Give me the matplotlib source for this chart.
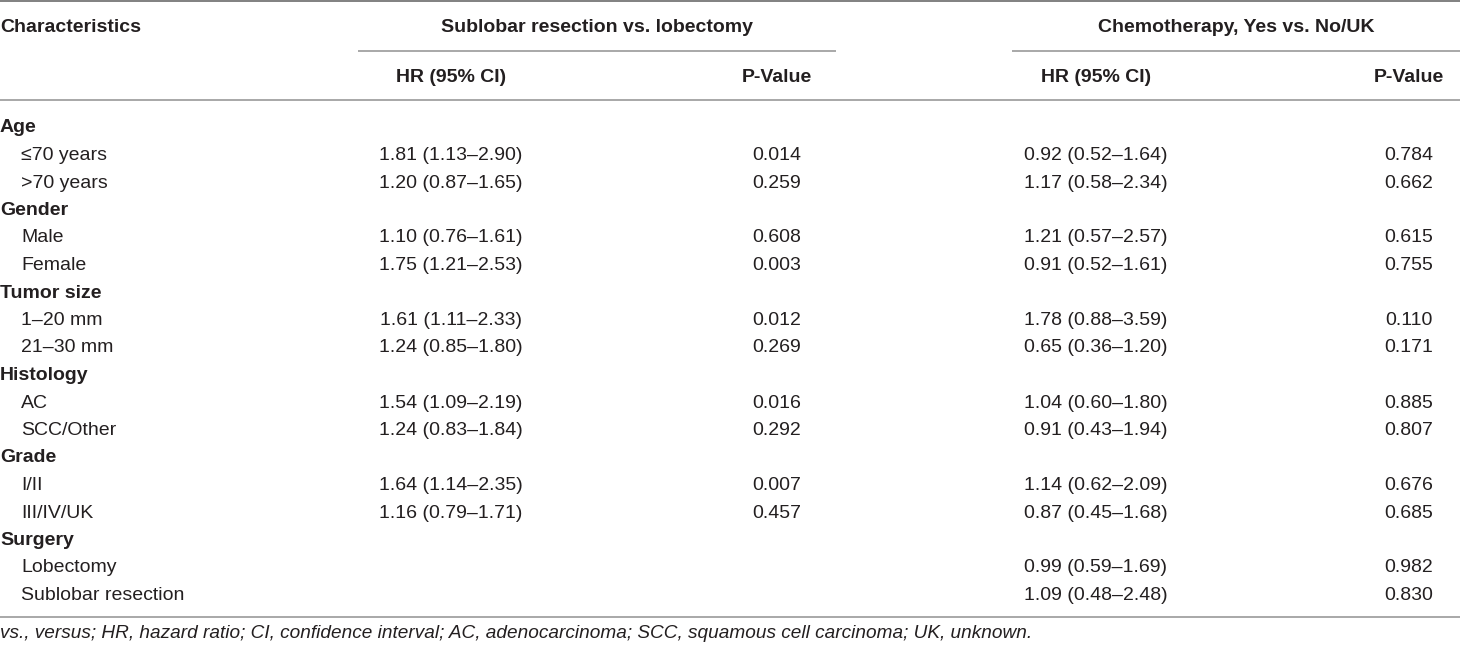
import matplotlib
matplotlib.use('Agg')
import matplotlib.pyplot as plt

plt.rcParams['font.family'] = ['Liberation Sans', 'DejaVu Sans']

# table content
group_titles = ['Sublobar resection vs. lobectomy', 'Chemotherapy, Yes vs. No/UK']
col_titles = ['HR (95% CI)', 'P-Value', 'HR (95% CI)', 'P-Value']

# rows: (label, is_group)
rows = [
    ('Age', True), ('≤70 years', False), ('>70 years', False),
    ('Gender', True), ('Male', False), ('Female', False),
    ('Tumor size', True), ('1–20 mm', False), ('21–30 mm', False),
    ('Histology', True), ('AC', False), ('SCC/Other', False),
    ('Grade', True), ('I/II', False), ('III/IV/UK', False),
    ('Surgery', True), ('Lobectomy', False), ('Sublobar resection', False),
]

sub_hr = ['', '1.81 (1.13–2.90)', '1.20 (0.87–1.65)',
          '', '1.10 (0.76–1.61)', '1.75 (1.21–2.53)',
          '', '1.61 (1.11–2.33)', '1.24 (0.85–1.80)',
          '', '1.54 (1.09–2.19)', '1.24 (0.83–1.84)',
          '', '1.64 (1.14–2.35)', '1.16 (0.79–1.71)',
          '', '', '']
sub_p = ['', '0.014', '0.259',
         '', '0.608', '0.003',
         '', '0.012', '0.269',
         '', '0.016', '0.292',
         '', '0.007', '0.457',
         '', '', '']
chemo_hr = ['', '0.92 (0.52–1.64)', '1.17 (0.58–2.34)',
            '', '1.21 (0.57–2.57)', '0.91 (0.52–1.61)',
            '', '1.78 (0.88–3.59)', '0.65 (0.36–1.20)',
            '', '1.04 (0.60–1.80)', '0.91 (0.43–1.94)',
            '', '1.14 (0.62–2.09)', '0.87 (0.45–1.68)',
            '', '0.99 (0.59–1.69)', '1.09 (0.48–2.48)']
chemo_p = ['', '0.784', '0.662',
           '', '0.615', '0.755',
           '', '0.110', '0.171',
           '', '0.885', '0.807',
           '', '0.676', '0.685',
           '', '0.982', '0.830']

footnote = ('vs., versus; HR, hazard ratio; CI, confidence interval; '
            'AC, adenocarcinoma; SCC, squamous cell carcinoma; UK, unknown.')

# layout in pixels
W, H = 1460, 648
txt = '#231f20'
fs = 14
col_x = [451, 777, 1096, 1409]
group_spans = [(358, 836), (1012, 1460)]

fig = plt.figure(figsize=(W / 100, H / 100), dpi=100)
ax = fig.add_axes([0, 0, 1, 1])
ax.set_xlim(0, W)
ax.set_ylim(H, 0)
ax.axis('off')

# rules
ax.plot([0, W], [1, 1], color='#808080', lw=1.4, solid_capstyle='butt')
for x0, x1 in group_spans:
    ax.plot([x0, x1], [51, 51], color='#a8a8a8', lw=1.4, solid_capstyle='butt')
ax.plot([0, W], [100, 100], color='#a8a8a8', lw=1.4, solid_capstyle='butt')
ax.plot([0, W], [617, 617], color='#a8a8a8', lw=1.4, solid_capstyle='butt')

# header
ax.text(0, 27, 'Characteristics', ha='left', va='center', fontsize=fs,
        fontweight='bold', color=txt)
for (x0, x1), t in zip(group_spans, group_titles):
    ax.text((x0 + x1) / 2, 27, t, ha='center', va='center', fontsize=fs,
            fontweight='bold', color=txt)
for x, t in zip(col_x, col_titles):
    ax.text(x, 77, t, ha='center', va='center', fontsize=fs,
            fontweight='bold', color=txt)

# body
y0, dy = 128, 27.5
for i, (label, is_group) in enumerate(rows):
    y = y0 + i * dy
    if is_group:
        ax.text(0, y, label, ha='left', va='center', fontsize=fs,
                fontweight='bold', color=txt)
    else:
        ax.text(21, y, label, ha='left', va='center', fontsize=fs, color=txt)
    for x, col in zip(col_x, [sub_hr, sub_p, chemo_hr, chemo_p]):
        if col[i]:
            ax.text(x, y, col[i], ha='center', va='center', fontsize=fs, color=txt)

ax.text(0, 633, footnote, ha='left', va='center', fontsize=13.7,
        style='italic', color=txt)

fig.savefig('out.png', dpi=100)
